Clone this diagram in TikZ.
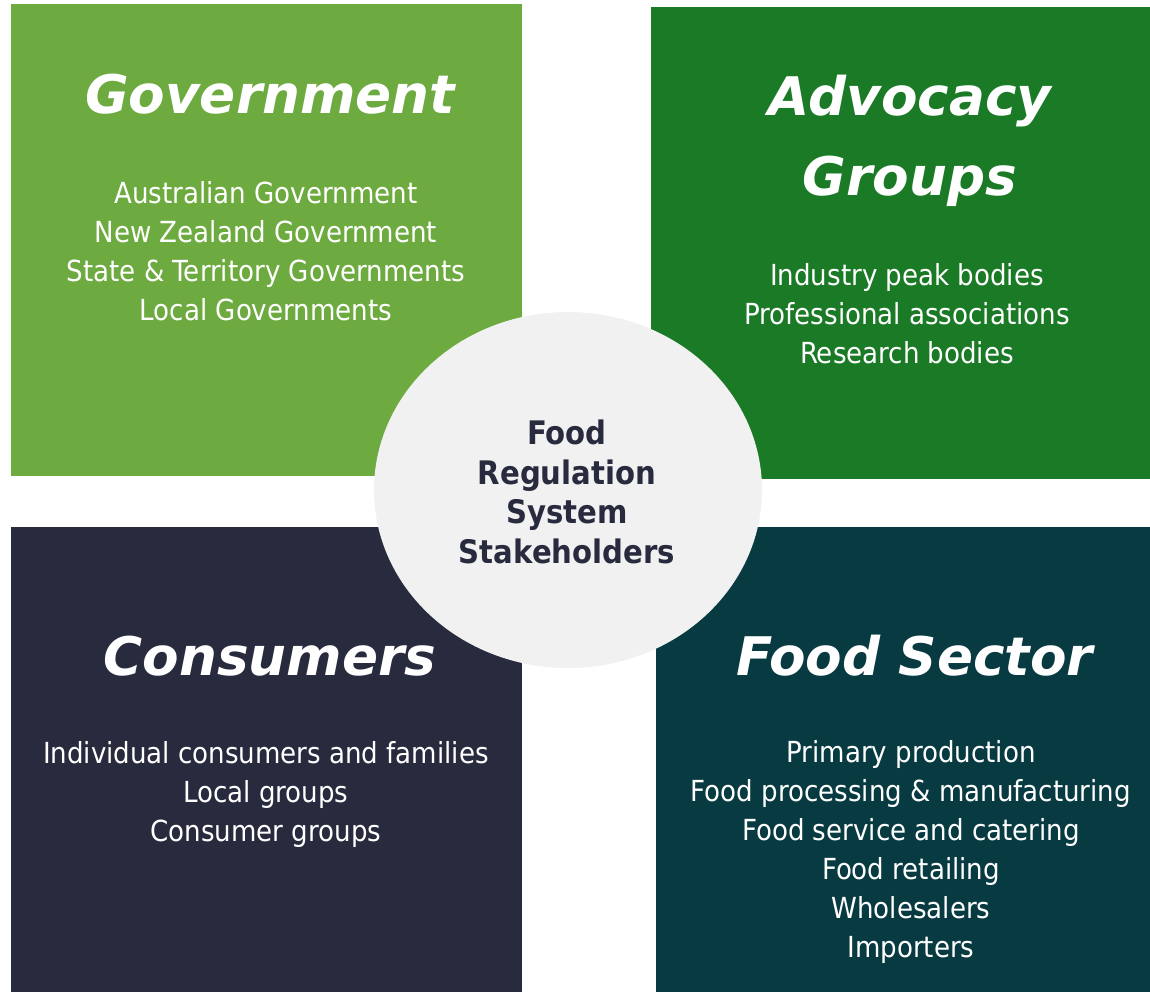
\documentclass[tikz,border=0pt]{standalone}
\usepackage{fontspec}
\usetikzlibrary{shapes.geometric}
\newfontfamily\titlefont{DejaVu Sans}
\newfontfamily\bodyfont{DejaVu Sans Condensed}
\definecolor{govgreen}{HTML}{6DAA3F}
\definecolor{advgreen}{HTML}{1A7A25}
\definecolor{consnavy}{HTML}{282A3E}
\definecolor{foodteal}{HTML}{083A42}
\definecolor{circgray}{HTML}{F1F1F1}
\tikzset{
  panel/.style={rectangle, inner sep=0pt, anchor=north west, draw=none},
  paneltitle/.style={text=white, align=center, inner sep=0pt, font=\titlefont\bfseries\itshape\fontsize{26.6}{40}\selectfont},
  panelbody/.style={text=white, align=center, inner sep=0pt, font=\bodyfont\fontsize{14.5}{19.5}\selectfont},
  hub/.style={ellipse, fill=circgray, inner sep=0pt, minimum width=194pt, minimum height=178pt},
  hubtext/.style={text=consnavy, align=center, inner sep=0pt, font=\bodyfont\bfseries\fontsize{16.2}{19.7}\selectfont}
}
\begin{document}
\begin{tikzpicture}[x=0.5pt, y=-0.5pt]
\useasboundingbox (0,0) rectangle (1150,992);
% panels
\node[panel, fill=govgreen, minimum width=255.5pt, minimum height=236pt] (gov) at (11,4) {};
\node[panel, fill=advgreen, minimum width=249.5pt, minimum height=236pt] (adv) at (651,7) {};
\node[panel, fill=consnavy, minimum width=255.5pt, minimum height=232.5pt] (cons) at (11,527) {};
\node[panel, fill=foodteal, minimum width=247pt, minimum height=232.5pt] (food) at (656,527) {};
% titles
\node[paneltitle] (govtitle) at (270,94) {Government};
\node[paneltitle] (advtitle) at (910,141) {Advocacy\\Groups};
\node[paneltitle] (constitle) at (270,656) {Consumers};
\node[paneltitle] (foodtitle) at (915,656) {Food Sector};
% bodies
\node[panelbody] (govbody) at (266,251) {Australian Government\\New Zealand Government\\State \& Territory Governments\\Local Governments};
\node[panelbody] (advbody) at (907,313.5) {Industry peak bodies\\Professional associations\\Research bodies};
\node[panelbody] (consbody) at (266,794) {Individual consumers and families\\Local groups\\Consumer groups};
\node[panelbody] (foodbody) at (911,852) {Primary production\\Food processing \& manufacturing\\Food service and catering\\Food retailing\\Wholesalers\\Importers};
% hub
\node[hub] (hub) at (568,490) {};
\node[hubtext] (hubtext) at (567,492) {Food\\Regulation\\System\\Stakeholders};
\end{tikzpicture}
\end{document}
